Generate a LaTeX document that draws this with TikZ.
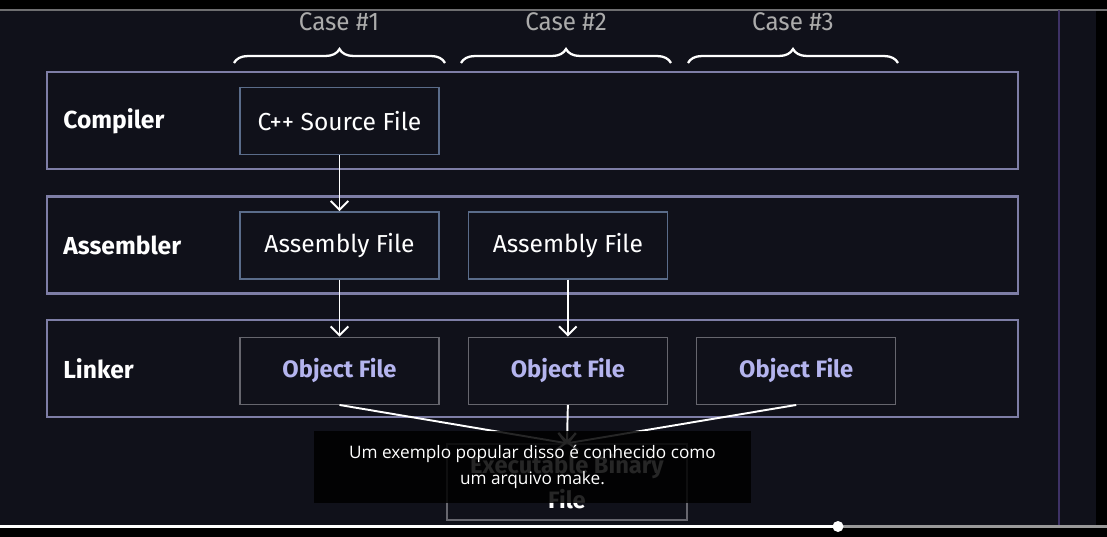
\documentclass[tikz,border=0pt]{standalone}
\usepackage{fontspec}
\setmainfont{Fira Sans}
\newfontfamily\casefont[FakeStretch=0.95]{Fira Sans}
\newfontfamily\subfont{Open Sans}
\usetikzlibrary{positioning}
\usetikzlibrary{arrows.meta}
\usetikzlibrary{decorations.pathreplacing}
\definecolor{bgdark}{HTML}{10111A}
\definecolor{rowline}{HTML}{7E7EA6}
\definecolor{boxline}{HTML}{5A6C8A}
\definecolor{objline}{HTML}{66666E}
\definecolor{objtext}{HTML}{B4B4EE}
\definecolor{casegray}{HTML}{ABABAB}
\definecolor{topline}{HTML}{6E6E70}
\definecolor{barpurple}{HTML}{3E3266}
\tikzstyle{stage} = [draw=rowline, line width=1.2pt, fill=bgdark, minimum width=19.42cm, minimum height=1.94cm, inner sep=0pt]
\tikzstyle{stagelabel} = [anchor=west, text=white, inner sep=0pt, font=\fontsize{14}{14}\selectfont\bfseries]
\tikzstyle{filebox} = [draw=boxline, line width=0.8pt, fill=bgdark, minimum width=3.98cm, minimum height=1.34cm, inner sep=0pt, text=white, font=\fontsize{14}{14}\selectfont]
\tikzstyle{objbox} = [filebox, draw=objline, text=objtext, font=\fontsize{13.5}{13.5}\selectfont\bfseries]
\tikzstyle{flow} = [draw=white, line width=1.1pt, -{Straight Barb[length=5pt,width=10pt]}]
\tikzstyle{casebrace} = [draw=white, line width=1.3pt, decorate, decoration={brace, amplitude=0.28cm}]
\tikzstyle{caselabel} = [text=casegray, font=\casefont\fontsize{14.5}{14.5}\selectfont]

\begin{document}
\begin{tikzpicture}[x=0.02cm, y=-0.02cm]
\useasboundingbox (0,0) rectangle (1107,537);
\fill[bgdark] (0,0) rectangle (1107,537);
\fill[black] (0,0) rectangle (1107,10);
\fill[black] (1096,0) rectangle (1107,537);
\draw[topline, line width=1.2pt] (0,10) -- (1107,10);
\draw[barpurple, line width=0.8pt] (1059,10) -- (1059,537);

% Cases
\node[caselabel] (c1) at (339,22) {Case \#1};
\node[caselabel] (c2) at (566,22) {Case \#2};
\node[caselabel] (c3) at (793,22) {Case \#3};
\coordinate (b1l) at (234,63); \coordinate (b1r) at (445,63);
\coordinate (b2l) at (461,63); \coordinate (b2r) at (671,63);
\coordinate (b3l) at (688,63); \coordinate (b3r) at (898,63);
\draw[casebrace] (b1l) -- (b1r);
\draw[casebrace] (b2l) -- (b2r);
\draw[casebrace] (b3l) -- (b3r);

% Define nodes
\node[stage]                       (comp) at (532.5,120.5) {};
\node[stage]                       (asm)  at (532.5,245)   {};
\node[stage]                       (link) at (532.5,368.5) {};
\node[stagelabel]                  (lcomp) at (63,121) {Compiler};
\node[stagelabel]                  (lasm)  at (63,245) {Assembler};
\node[stagelabel]                  (llink) at (63,369) {Linker};

\node[filebox]                     (src) at (339.5,121) {C++ Source File};
\node[filebox, below = 1.12cm of src] (asm1) {Assembly File};
\node[filebox, right = 0.56cm of asm1] (asm2) {Assembly File};
\node[objbox, below = 1.14cm of asm1] (obj1) {Object File};
\node[objbox, right = 0.56cm of obj1] (obj2) {Object File};
\node[objbox, right = 0.56cm of obj2] (obj3) {Object File};

\node[filebox, draw=objline, minimum width=4.8cm, minimum height=1.52cm, align=center,
      font=\fontsize{13.5}{20}\selectfont\bfseries] (exe) at (567,482) {Executable Binary\\File};

% Edges
\draw[flow] (src)  -- (asm1);
\draw[flow] (asm1) -- (obj1);
\draw[flow] (asm2) -- (obj2);
\draw[flow] (obj1.south) -- (exe.north);
\draw[flow] (obj2.south) -- (exe.north);
\draw[flow] (obj3.south) -- (exe.north);

% Subtitle
\node[fill=black, fill opacity=0.85, text opacity=1, text=white, minimum width=8.74cm, minimum height=1.44cm,
      inner sep=0pt, align=center, font=\subfont\fontsize{9.8}{14.5}\selectfont] (sub) at (532.5,467)
      {Um exemplo popular disso é conhecido como\\um arquivo make.};

% Progress bar
\fill[black] (0,528) rectangle (1096,537);
\coordinate (pos) at (838,526.5);
\draw[gray!80, line width=2.2pt] (pos) -- (1107,526.5);
\draw[white, line width=2.2pt] (0,526.5) -- (pos);
\fill[white] (pos) circle (5.5);

\end{tikzpicture}
\end{document}
